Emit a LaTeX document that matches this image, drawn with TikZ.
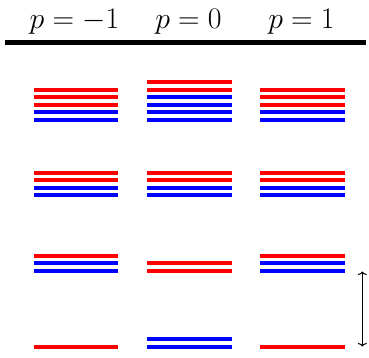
\documentclass[tikz,border=0pt]{standalone}
\usepackage{amsmath}
\usetikzlibrary{arrows.meta}
\begin{document}
\begin{tikzpicture}[x=1pt,y=-1pt,
  lev/.style={line width=4pt},
  rl/.style={lev,draw=red},
  bl/.style={lev,draw=blue},
  hdr/.style={anchor=base,inner sep=0pt,font=\fontsize{24.88}{28}\selectfont,scale=1.2,transform shape},
  rule/.style={line width=4.5pt,draw=black},
  gap/.style={{To[length=3.5pt,width=9pt]}-{To[length=3.5pt,width=9pt]},line width=1pt}]
\useasboundingbox (0,0) rectangle (369,358);
% header
\node[hdr] (h1) at (74.5,28.3) {$p=-1$};
\node[hdr] (h2) at (188.5,28.3) {$p=0$};
\node[hdr] (h3) at (301.5,28.3) {$p=1$};
\draw[rule] (5,42.7) -- (366,42.7);
% column 1
\foreach \y/\c in {89.6/rl,97.15/rl,104.7/rl,112.25/bl,119.8/bl,
                   172.6/rl,180.15/rl,187.7/bl,195.25/bl,
                   255.7/rl,263.3/bl,270.9/bl,
                   346.6/rl}
  \draw[\c] (33.5,\y) -- (118,\y);
% column 2
\foreach \y/\c in {82.05/rl,89.6/rl,97.15/bl,104.7/bl,112.25/bl,119.8/bl,
                   172.6/rl,180.15/rl,187.7/bl,195.25/bl,
                   263.3/rl,270.9/rl,
                   339.0/bl,346.6/bl}
  \draw[\c] (147,\y) -- (232,\y);
% column 3
\foreach \y/\c in {89.6/rl,97.15/rl,104.7/rl,112.25/bl,119.8/bl,
                   172.6/rl,180.15/rl,187.7/bl,195.25/bl,
                   255.7/rl,263.3/bl,270.9/bl,
                   346.6/rl}
  \draw[\c] (260,\y) -- (345,\y);
% gap arrow
\coordinate (gtop) at (362.3,271.5);
\coordinate (gbot) at (362.3,346.5);
\draw[gap] (gtop) -- (gbot);
\end{tikzpicture}
\end{document}
